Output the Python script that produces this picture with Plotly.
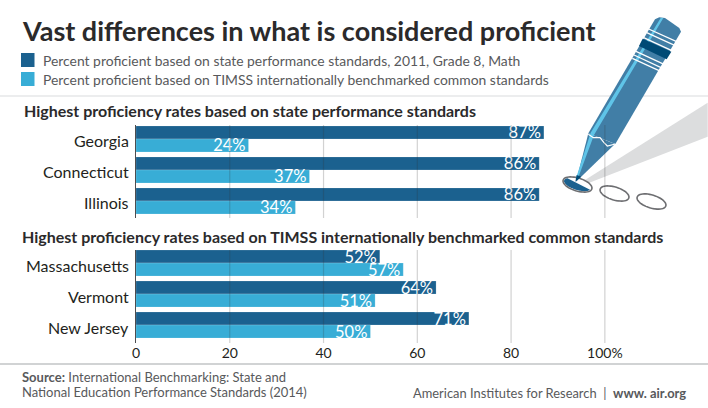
#!/usr/bin/env python
# coding: utf-8

import numpy as np
import plotly.graph_objects as go

W, H = 708, 408

# Chart data
state_names_top = ["Georgia", "Connecticut", "Illinois"]
state_std_top = [87, 86, 86]
timss_std_top = [24, 37, 34]

state_names_bottom = ["Massachusetts", "Vermont", "New Jersey"]
state_std_bottom = [52, 64, 71]
timss_std_bottom = [57, 51, 50]

tick_vals = [0, 20, 40, 60, 80, 100]
tick_text = ["0", "20", "40", "60", "80", "100%"]

title_text = "Vast differences in what is considered proficient"
legend_state = "Percent proficient based on state performance standards, 2011, Grade 8, Math"
legend_timss = "Percent proficient based on TIMSS internationally benchmarked common standards"
heading_top = "Highest proficiency rates based on state performance standards"
heading_bottom = "Highest proficiency rates based on TIMSS internationally benchmarked common standards"

DARK = "#1b618f"
LIGHT = "#38add6"
PENCIL = "#417ea6"
INK = "#231f20"
GREY = "#58595b"
FONT = "Lato"


def fx(px):
    return px / W


def fy(py):
    return 1 - py / H


def poly(points, close=True):
    # pixel points -> svg path in paper coordinates
    path = "M" + " L".join(f"{fx(x):.5f},{fy(y):.5f}" for x, y in points)
    return path + (" Z" if close else "")


def zoomed(points):
    # pencil was measured on a 3x crop starting at x=500
    return [(500 + x / 3, y / 3) for x, y in points]


def ellipse(cx, cy, rx, ry, deg, start=0, end=360):
    t = np.radians(np.linspace(start, end, 49))
    a = np.radians(deg)
    xs = cx + rx * np.cos(t) * np.cos(a) - ry * np.sin(t) * np.sin(a)
    ys = cy + rx * np.cos(t) * np.sin(a) + ry * np.sin(t) * np.cos(a)
    return list(zip(xs, ys))


def add_bars(fig, names, state_vals, timss_vals, xaxis, yaxis):
    for vals, color, label in [(state_vals, DARK, legend_state), (timss_vals, LIGHT, legend_timss)]:
        fig.add_trace(go.Bar(
            y=names, x=vals, orientation="h", name=label, xaxis=xaxis, yaxis=yaxis,
            marker=dict(color=color, line=dict(color="rgba(255,255,255,0.35)", width=0.5)),
            text=[f"{v}%" for v in vals], textposition="inside", insidetextanchor="end",
            constraintext="none", cliponaxis=False,
            textfont=dict(family=FONT, size=16.5, color="white"), showlegend=False,
        ))


fig = go.Figure()
add_bars(fig, state_names_top, state_std_top, timss_std_top, "x", "y")
add_bars(fig, state_names_bottom, state_std_bottom, timss_std_bottom, "x2", "y2")

x_common = dict(range=[0, 122], domain=[fx(136), 1], tickvals=tick_vals, ticktext=tick_text,
                showgrid=False, zeroline=False, ticks="", fixedrange=True, automargin=False,
                tickfont=dict(family=FONT, size=14, color=INK))
y_common = dict(type="category", showgrid=False, zeroline=False, ticks="", showline=True, automargin=False,
                linecolor="#4d4d4f", linewidth=1, showticklabels=False)

shapes = []
# separators
for sy, col, wd in [(96, "#e6e7e8", 1.5), (364, "#d1d3d4", 2)]:
    shapes.append(dict(type="line", xref="paper", yref="paper", x0=0, x1=1, y0=fy(sy), y1=fy(sy),
                       line=dict(color=col, width=wd)))
# legend swatches
for sy, col in [(60, DARK), (79, LIGHT)]:
    shapes.append(dict(type="rect", xref="paper", yref="paper", x0=fx(21), x1=fx(34.5),
                       y0=fy(sy - 7), y1=fy(sy + 7), fillcolor=col, line_width=0))
# pencil shadow and the circles
shapes.append(dict(type="path", xref="paper", yref="paper", layer="below", line_width=0,
                   fillcolor="#dcddde", path=poly(zoomed([(255, 540), (623, 308), (623, 410), (268, 548)]))))
shapes.append(dict(type="path", xref="paper", yref="paper", fillcolor=DARK, line_width=0,
                   path=poly(ellipse(577.5, 184.5, 14, 5.5, 17, 15, 215))))
for cx, cy in [(577.5, 184.5), (614.5, 193.5), (651.5, 201.5)]:
    shapes.append(dict(type="path", xref="paper", yref="paper", line=dict(color="#6d6e71", width=1.6),
                       path=poly(ellipse(cx, cy, 15, 6.5, 17))))
# pencil
shapes.append(dict(type="path", xref="paper", yref="paper", fillcolor=PENCIL, line_width=0,
                   path=poly(zoomed([(265, 400), (228, 545), (345, 432)]))))
shapes.append(dict(type="path", xref="paper", yref="paper", fillcolor=PENCIL, line_width=0,
                   path=poly(zoomed([(465, 58), (478, 52), (495, 54), (538, 84), (543, 95), (346, 432), (265, 400)]))))
shapes.append(dict(type="path", xref="paper", yref="paper", fillcolor="#5fc4e8", line_width=0,
                   path=poly(zoomed([(482, 54), (490, 54), (282, 405), (234, 535), (228, 535), (272, 398)]))))
shapes.append(dict(type="path", xref="paper", yref="paper", fillcolor="#004a75", line_width=0,
                   path=poly(zoomed([(428, 116), (514, 155), (500, 178), (417, 138)]))))
shapes.append(dict(type="path", xref="paper", yref="paper", fillcolor="#004a75", line_width=0,
                   path=poly(zoomed([(226, 545), (230, 525), (244, 530)]))))
for p0, p1 in [((446, 87), (530, 125)), ((440, 98), (524, 136)), ((431, 113), (514, 151)),
               ((408, 154), (494, 194)), ((402, 165), (488, 205)), ((397, 175), (482, 214))]:
    shapes.append(dict(type="path", xref="paper", yref="paper", line=dict(color="white", width=1.2),
                       path=poly(zoomed([p0, p1]), close=False)))
shapes.append(dict(type="path", xref="paper", yref="paper", line=dict(color="white", width=1.2),
                   path=poly(zoomed([(265, 403), (280, 413), (300, 413), (312, 428), (322, 438), (346, 432)]), close=False)))
# grid lines sit on top of the bars in the original
for xa, ya in [("x", "y"), ("x2", "y2")]:
    for v in tick_vals[1:]:
        shapes.append(dict(type="line", xref=xa, yref=f"{ya} domain", x0=v, x1=v, y0=0, y1=1,
                           line=dict(color="rgba(50,50,50,0.22)", width=1.2)))


def note(text, x, y, size, color=INK, anchor="left", weight=None):
    font = dict(family=FONT, size=size, color=color)
    if weight:
        font["weight"] = weight
    return dict(text=text, x=fx(x), y=fy(y), xref="paper", yref="paper", xanchor=anchor, yanchor="middle",
                align="left", showarrow=False, font=font)


annotations = [
    note(title_text, 20, 31, 27, color="#2b2a2b", weight=700),
    note(legend_state, 41, 60, 13.9, color=GREY),
    note(legend_timss, 41, 80, 13.9, color=GREY),
    note(heading_top, 22, 111, 16, color="#2b2a2b", weight=700),
    note(heading_bottom, 20, 236, 16, color="#2b2a2b", weight=700),
    note("<b>Source:</b> International Benchmarking: State and", 20, 377, 13, color=GREY),
    note("National Education Performance Standards (2014)", 20, 391.5, 13, color=GREY),
    note("American Institutes for Research  |  <b>www. air.org</b>", 688, 393, 12.9, color=GREY, anchor="right"),
]

# state names sit a little below the centre of each bar pair
for names, xa, ya in [(state_names_top, "x", "y"), (state_names_bottom, "x2", "y2")]:
    for name in names:
        annotations.append(dict(text=name, x=0, y=name, xref=xa, yref=ya, xanchor="right", yanchor="middle",
                                xshift=-5, yshift=-2, showarrow=False,
                                font=dict(family=FONT, size=16, color=INK)))

fig.update_layout(
    width=W, height=H, margin=dict(l=0, r=0, t=0, b=0), autosize=False,
    paper_bgcolor="white", plot_bgcolor="white", barmode="group", bargap=0.16, bargroupgap=0,
    xaxis=dict(anchor="y", showticklabels=False, **x_common),
    yaxis=dict(anchor="x", domain=[fy(218), fy(125)], range=[2.55, -0.45], **y_common),
    xaxis2=dict(anchor="y2", **x_common),
    yaxis2=dict(anchor="x2", domain=[fy(343), fy(250)], range=[2.58, -0.42], **y_common),
    shapes=shapes, annotations=annotations,
)

fig.write_html("out.html", config=dict(displayModeBar=False),
               post_script="document.body.style.margin='0';document.body.style.overflow='hidden';")
